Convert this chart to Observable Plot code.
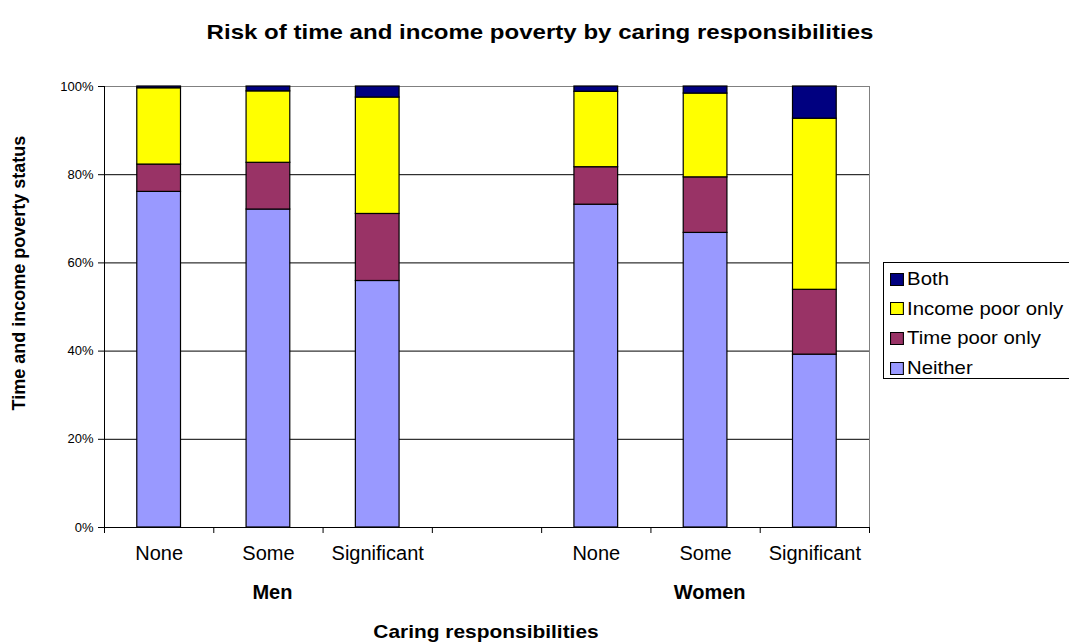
<!DOCTYPE html>
<html>
<head>
<meta charset="utf-8">
<script src="https://cdn.jsdelivr.net/npm/d3@7"></script>
<script src="https://cdn.jsdelivr.net/npm/@observablehq/plot@0.6"></script>
<style>
  html, body { margin: 0; padding: 0; background: #fff; overflow: hidden; }
  #chart { position: relative; width: 1069px; height: 642px; font-family: "Liberation Sans", Arial, sans-serif; color: #000; }
  .lbl { position: absolute; white-space: nowrap; transform: translate(-50%, -50%); }
  .title { left: 540px; top: 32px; font-size: 21px; font-weight: bold; transform: translate(-50%, -50%) scaleX(1.145); }
  .ytitle { left: 19px; top: 273px; font-size: 18px; font-weight: bold; transform: translate(-50%, -50%) rotate(-90deg); }
  .xtitle { left: 486px; top: 632px; font-size: 19px; font-weight: bold; transform: translate(-50%, -50%) scaleX(1.1); }
  #legend { position: absolute; left: 883px; top: 262px; width: 200px; height: 117px; border: 1px solid #000; background: #fff; box-sizing: border-box; }
  .item { position: absolute; left: 6px; height: 22px; display: flex; align-items: center; font-size: 19px; transform-origin: left center; transform: scaleX(1.07); }
  .sw { width: 11px; height: 11px; border: 1px solid #000; margin-right: 3px; flex: none; }
</style>
</head>
<body>
<div id="chart"></div>
<script>
// Caring responsibility levels, shown for each sex
const groups = ["Men", "Women"];
const categories = ["None", "Some", "Significant"];

// Poverty status series, stacked bottom to top (percent of each group)
const statuses = ["Neither", "Time poor only", "Income poor only", "Both"];
const colors = ["#9999FF", "#993366", "#FFFF00", "#000080"];

// Order of values: Men None, Men Some, Men Significant, Women None, Women Some, Women Significant
const neither        = [76.1, 72.1, 55.9, 73.2, 66.8, 39.2];
const timePoorOnly   = [6.2, 10.6, 15.2, 8.5, 12.6, 14.7];
const incomePoorOnly = [17.3, 16.2, 26.4, 17.1, 19.0, 38.8];
const both           = [0.4, 1.1, 2.5, 1.2, 1.6, 7.3];

const yTicks = [0, 20, 40, 60, 80, 100];

const series = [neither, timePoorOnly, incomePoorOnly, both];

// One slot per category, with an empty slot separating the two groups
const slotsPerGroup = categories.length + 1;
const nSlots = groups.length * slotsPerGroup - 1;

const segments = [];
const catLabels = [];
groups.forEach((g, gi) => {
  categories.forEach((c, ci) => {
    const idx = gi * categories.length + ci;
    const slot = gi * slotsPerGroup + ci;
    catLabels.push({slot, label: c});
    let base = 0;
    statuses.forEach((s, si) => {
      const v = series[si][idx];
      segments.push({slot, group: g, category: c, status: s, y1: base, y2: base + v});
      base += v;
    });
  });
});
const groupLabels = groups.map((g, gi) => ({center: gi * slotsPerGroup + (categories.length - 1) / 2, label: g}));

const plot = Plot.plot({
  width: 1069,
  height: 642,
  marginLeft: 104,
  marginRight: 200,
  marginTop: 86,
  marginBottom: 115,
  style: {fontFamily: '"Liberation Sans", Arial, sans-serif', background: "transparent", color: "#000"},
  x: {type: "linear", domain: [0, nSlots], axis: null},
  y: {domain: [0, 100], axis: null},
  color: {domain: statuses, range: colors},
  marks: [
    Plot.ruleY(yTicks.filter(d => d > 0 && d < 100), {stroke: "#000", strokeWidth: 1}),
    Plot.ruleY([100], {stroke: "#808080", strokeWidth: 1}),
    Plot.ruleX([nSlots], {stroke: "#808080", strokeWidth: 1}),
    Plot.rect(segments, {
      x1: d => d.slot + 0.3,
      x2: d => d.slot + 0.7,
      y1: "y1",
      y2: "y2",
      fill: "status",
      stroke: "#000",
      strokeWidth: 1.2
    }),
    Plot.ruleX([0], {stroke: "#000"}),
    Plot.ruleY([0], {stroke: "#000"}),
    Plot.axisY({ticks: yTicks, tickFormat: d => d + "%", tickSize: 6, tickPadding: 5, fontSize: 13, stroke: "#000"}),
    Plot.axisX({ticks: d3.range(nSlots + 1), tickFormat: () => "", tickSize: 6, stroke: "#000"}),
    Plot.text(catLabels, {x: d => d.slot + 0.5, text: "label", frameAnchor: "bottom", dy: 32, fontSize: 20}),
    Plot.text(groupLabels, {x: d => d.center + 0.5, text: "label", frameAnchor: "bottom", dx: 4, dy: 71, fontSize: 20, fontWeight: "bold"})
  ]
});

const chart = document.getElementById("chart");
chart.appendChild(plot);

function addLabel(cls, text) {
  const el = document.createElement("div");
  el.className = "lbl " + cls;
  el.textContent = text;
  chart.appendChild(el);
}
addLabel("title", "Risk of time and income poverty by caring responsibilities");
addLabel("ytitle", "Time and income poverty status");
addLabel("xtitle", "Caring responsibilities");

// Legend, topmost series first
const legend = document.createElement("div");
legend.id = "legend";
statuses.slice().reverse().forEach((s, i) => {
  const item = document.createElement("div");
  item.className = "item";
  item.style.top = (5 + i * 29.7) + "px";
  const sw = document.createElement("span");
  sw.className = "sw";
  sw.style.background = colors[statuses.indexOf(s)];
  item.appendChild(sw);
  item.appendChild(document.createTextNode(s));
  legend.appendChild(item);
});
chart.appendChild(legend);
</script>
</body>
</html>
